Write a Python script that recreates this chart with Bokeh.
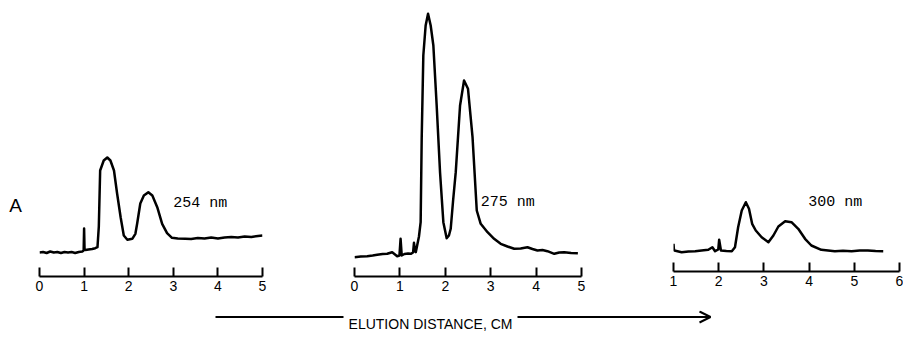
from bokeh.plotting import figure
from bokeh.layouts import row, column
from bokeh.models import Range1d, FixedTicker, Label, Arrow, OpenHead
from bokeh.embed import file_html
from bokeh.resources import INLINE

# ---- data (elution distance in cm, relative absorbance) ----
x_254 = [0.00, 0.08, 0.16, 0.24, 0.32, 0.40, 0.48, 0.56, 0.64, 0.72, 0.80, 0.88, 0.96, 0.99, 1.00,
         1.01, 1.03, 1.10, 1.18, 1.25, 1.30, 1.33, 1.36, 1.44, 1.52, 1.59, 1.67, 1.74, 1.82, 1.89,
         1.97, 2.08, 2.15, 2.19, 2.26, 2.34, 2.44, 2.53, 2.64, 2.75, 2.86, 2.97, 3.10, 3.27, 3.40,
         3.55, 3.70, 3.85, 4.00, 4.15, 4.30, 4.45, 4.60, 4.75, 4.90, 5.00]
y_254 = [0.240, 0.245, 0.235, 0.250, 0.240, 0.245, 0.235, 0.245, 0.240, 0.245, 0.235, 0.245, 0.250, 0.260, 0.480,
         0.270, 0.265, 0.270, 0.275, 0.283, 0.293, 0.500, 1.060, 1.160, 1.190, 1.160, 1.060, 0.830, 0.590, 0.410,
         0.367, 0.377, 0.427, 0.530, 0.730, 0.810, 0.843, 0.810, 0.693, 0.527, 0.433, 0.387, 0.380, 0.377, 0.375,
         0.385, 0.380, 0.390, 0.380, 0.390, 0.395, 0.390, 0.400, 0.395, 0.405, 0.410]

x_275 = [0.00, 0.14, 0.28, 0.40, 0.50, 0.62, 0.72, 0.83, 0.94, 0.99, 1.015, 1.04, 1.10, 1.18, 1.24,
         1.29, 1.31, 1.335, 1.35, 1.38, 1.42, 1.457, 1.48, 1.516, 1.567, 1.62, 1.678, 1.737, 1.81, 1.884,
         1.957, 2.03, 2.08, 2.119, 2.17, 2.23, 2.325, 2.413, 2.50, 2.60, 2.693, 2.78, 2.93, 3.075, 3.22,
         3.37, 3.517, 3.66, 3.81, 3.92, 4.03, 4.14, 4.25, 4.40, 4.51, 4.62, 4.77, 4.92]
y_275 = [0.193, 0.200, 0.203, 0.210, 0.217, 0.225, 0.227, 0.243, 0.203, 0.210, 0.377, 0.210, 0.225, 0.230, 0.227,
         0.240, 0.337, 0.250, 0.243, 0.310, 0.400, 0.543, 1.380, 2.210, 2.510, 2.627, 2.510, 2.310, 1.710, 1.043,
         0.543, 0.383, 0.410, 0.477, 0.750, 1.043, 1.710, 1.960, 1.877, 1.393, 0.660, 0.527, 0.443, 0.377, 0.327,
         0.300, 0.277, 0.280, 0.293, 0.275, 0.260, 0.265, 0.253, 0.227, 0.240, 0.243, 0.235, 0.233]

x_300 = [1.00, 1.01, 1.02, 1.18, 1.33, 1.48, 1.62, 1.77, 1.86, 1.92, 1.99, 2.01, 2.05, 2.17, 2.29,
         2.36, 2.43, 2.51, 2.60, 2.67, 2.74, 2.82, 2.95, 3.10, 3.21, 3.32, 3.47, 3.61, 3.76, 3.91,
         4.05, 4.27, 4.42, 4.57, 4.75, 4.94, 5.12, 5.30, 5.47, 5.64]
y_300 = [0.277, 0.220, 0.210, 0.193, 0.200, 0.203, 0.210, 0.217, 0.243, 0.203, 0.220, 0.317, 0.210, 0.205, 0.203,
         0.243, 0.443, 0.610, 0.693, 0.627, 0.477, 0.410, 0.343, 0.293, 0.360, 0.450, 0.503, 0.493, 0.427, 0.327,
         0.260, 0.217, 0.210, 0.203, 0.208, 0.203, 0.210, 0.210, 0.205, 0.203]

ticks_a = [0, 1, 2, 3, 4, 5]
ticks_b = [1, 2, 3, 4, 5, 6]
wavelengths = ["254 nm", "275 nm", "300 nm"]
panel_letter = "A"
axis_title = "ELUTION DISTANCE, CM"

ROW_H = 310


def base(width, mb_left, mb_right, mb_bottom, xr, yr, with_axis):
    p = figure(width=width, height=ROW_H, x_range=Range1d(*xr), y_range=Range1d(*yr),
               output_backend="svg", toolbar_location=None,
               x_axis_location="below" if with_axis else None, y_axis_location=None,
               min_border_left=mb_left, min_border_right=mb_right,
               min_border_top=0, min_border_bottom=mb_bottom)
    p.outline_line_color = None
    p.grid.visible = False
    return p


def panel(width, mb_left, mb_right, mb_bottom, xr, yr, ticks):
    p = base(width, mb_left, mb_right, mb_bottom, xr, yr, True)
    ax = p.xaxis[0]
    ax.ticker = FixedTicker(ticks=ticks)
    ax.axis_label = None
    ax.axis_label_standoff = 0
    ax.axis_label_text_font_size = "0px"
    ax.major_tick_in = 9
    ax.major_tick_out = 0
    ax.minor_tick_line_color = None
    ax.axis_line_width = 2
    ax.axis_line_color = "black"
    ax.major_tick_line_width = 2
    ax.major_tick_line_color = "black"
    ax.major_label_text_font = "Liberation Sans"
    ax.major_label_text_font_size = "14px"
    ax.major_label_text_color = "black"
    ax.major_label_standoff = 4
    return p


def nm_label(p, x, y, text):
    p.add_layout(Label(x=x, y=y, text=text, text_font="Liberation Mono",
                       text_font_size="15px", text_baseline="middle",
                       text_align="left", text_color="black"))


# panel letter column (page x 0..30)
pa = base(30, 0, 0, 34, (0, 30), (0, 2.76), False)
pa.add_layout(Label(x=15, y=0.71, text=panel_letter, text_font="Liberation Sans",
                    text_font_size="19px", text_baseline="middle", text_align="center",
                    text_color="black"))

# 254 nm : frame page x 39..262, axis at y 276
p1 = panel(300, 9, 68, 34, (0, 5), (0, 2.76), ticks_a)
p1.line(x_254, y_254, line_color="black", line_width=2.5, line_join="round")
nm_label(p1, 3.0, 0.73, wavelengths[0])

# 275 nm : frame page x 354..581
p2 = panel(320, 24, 69, 34, (0, 5), (0, 2.76), ticks_a)
p2.line(x_275, y_275, line_color="black", line_width=2.5, line_join="round")
nm_label(p2, 2.78, 0.74, wavelengths[1])

# 300 nm : frame page x 673..899, axis at y 271
p3 = panel(253, 23, 4, 39, (1, 6), (0, 2.71), ticks_b)
p3.line(x_300, y_300, line_color="black", line_width=2.5, line_join="round")
nm_label(p3, 3.98, 0.69, wavelengths[2])

# bottom caption with arrow (page y 310..338)
CAP_H = 338 - ROW_H
p4 = figure(width=903, height=CAP_H, x_range=Range1d(0, 903), y_range=Range1d(0, CAP_H),
            output_backend="svg", toolbar_location=None, x_axis_location=None,
            y_axis_location=None, min_border_left=0, min_border_right=0,
            min_border_top=0, min_border_bottom=0)
p4.outline_line_color = None
p4.grid.visible = False
p4.add_layout(Label(x=430, y=338 - 323.5, text=axis_title, text_font="Liberation Sans",
                    text_font_size="14px", text_baseline="alphabetic", text_align="center",
                    text_color="black"))
p4.add_layout(Arrow(end=None, x_start=215, y_start=338 - 316.5, x_end=343, y_end=338 - 316.5,
                    line_width=2, line_color="black"))
p4.add_layout(Arrow(end=OpenHead(size=11, line_width=2, line_color="black"),
                    x_start=517, y_start=338 - 316.5, x_end=710, y_end=338 - 316.5,
                    line_width=2, line_color="black"))

layout = column(row(column(pa), column(p1), column(p2), column(p3)), p4)
open("out.html", "w").write(file_html(layout, INLINE))
